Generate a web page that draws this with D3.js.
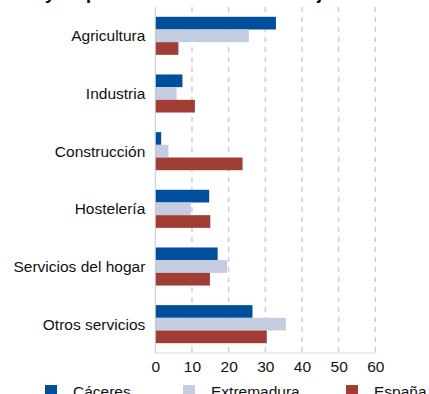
<!DOCTYPE html>
<meta charset="utf-8">
<style>
body { margin: 0; font: 15.5px Arial, "Liberation Sans", sans-serif; background: #fff; }
.grid line { stroke: #cfcfcf; stroke-width: 1.5; stroke-dasharray: 5,5; }
.x.axis path, .x.axis line { display: none; }
</style>
<body>
<script src="https://d3js.org/d3.v7.min.js"></script>
<script>

// data
var categories = ["Agricultura", "Industria", "Construcción", "Hostelería", "Servicios del hogar", "Otros servicios"];
var series = ["Cáceres", "Extremadura", "España"];
var caceres     = [32.9, 7.4, 1.6, 14.7, 17.0, 26.5];
var extremadura = [25.5, 5.8, 3.6, 9.7, 19.6, 35.6];
var espana      = [6.3, 10.8, 23.8, 15.0, 14.9, 30.4];
var tickValues = [0, 10, 20, 30, 40, 50, 60];
var colors = ["#004f9c", "#c4cce0", "#a03e36"];
var title = "Sexo y empleo: distribución del trabajo";

var values = [caceres, extremadura, espana];

var W = 429, H = 394;
var plotLeft = 155.3, plotRight = 375.3, plotTop = 7, plotBottom = 353;

var svg = d3.select("body").append("svg")
    .attr("width", W)
    .attr("height", H);

// title, mostly cut off by the top edge
svg.append("text")
    .attr("x", -3)
    .attr("y", -1)
    .style("font-weight", "bold")
    .style("font-size", "18px")
    .text(title);

var x = d3.scaleLinear().domain([0, 60]).range([plotLeft, plotRight]);
var y = d3.scaleBand().domain(categories).range([plotTop, plotBottom])
    .paddingInner(0.34).paddingOuter(0.17);
var ys = d3.scaleBand().domain(series).range([0, y.bandwidth()]);

// gridlines
svg.append("g")
    .attr("class", "grid")
    .selectAll("line")
    .data(tickValues.slice(1))
  .enter().append("line")
    .attr("x1", function(d) { return x(d); })
    .attr("x2", function(d) { return x(d); })
    .attr("y1", plotTop)
    .attr("y2", plotBottom + 1);

// bottom line
svg.append("line")
    .attr("x1", plotLeft).attr("x2", plotRight)
    .attr("y1", plotBottom).attr("y2", plotBottom)
    .attr("stroke", "#d9d9d9");

// bars
categories.forEach(function(c, i) {
    series.forEach(function(s, j) {
        svg.append("rect")
            .attr("x", x(0))
            .attr("y", y(c) + ys(s))
            .attr("width", x(values[j][i]) - x(0))
            .attr("height", ys.bandwidth())
            .attr("fill", colors[j]);
    });
});

// left axis line
svg.append("line")
    .attr("x1", plotLeft).attr("x2", plotLeft)
    .attr("y1", plotTop).attr("y2", plotBottom)
    .attr("stroke", "#c8c8c8");

// category labels
svg.append("g")
    .selectAll("text")
    .data(categories)
  .enter().append("text")
    .attr("x", plotLeft - 10)
    .attr("y", function(d) { return y(d) + y.bandwidth() / 2; })
    .attr("dy", "0.35em")
    .attr("text-anchor", "end")
    .attr("fill", "#111")
    .text(function(d) { return d; });

// x axis
var xAxis = d3.axisBottom(x).tickValues(tickValues).tickSize(0).tickPadding(8);
svg.append("g")
    .attr("class", "x axis")
    .attr("transform", "translate(0," + plotBottom + ")")
    .call(xAxis)
    .selectAll("text")
    .style("font-size", "15.5px")
    .style("font-family", "Arial, 'Liberation Sans', sans-serif")
    .attr("fill", "#111");

// legend
var legendX = [45, 183, 346];
var legend = svg.append("g")
    .selectAll("g")
    .data(series)
  .enter().append("g")
    .attr("transform", function(d, i) { return "translate(" + legendX[i] + ",385)"; });

legend.append("rect")
    .attr("width", 12)
    .attr("height", 12)
    .attr("fill", function(d, i) { return colors[i]; });

legend.append("text")
    .attr("x", 28)
    .attr("y", 12)
    .attr("fill", "#111")
    .text(function(d) { return d; });

</script>
</body>
